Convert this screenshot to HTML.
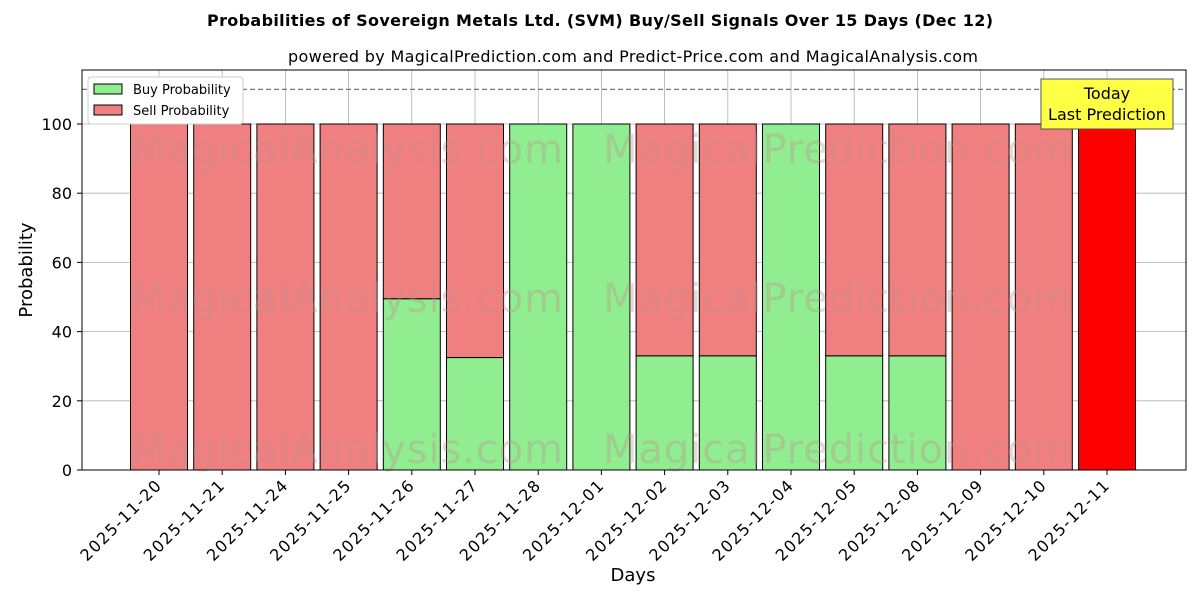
<!DOCTYPE html>
<html><head><meta charset="utf-8"><style>
body{margin:0;background:#fff;font-family:"DejaVu Sans","Liberation Sans",sans-serif;}
svg text{font-family:"DejaVu Sans","Liberation Sans",sans-serif;}
</style></head><body>
<svg id="chart" width="1200" height="600" xmlns="http://www.w3.org/2000/svg">
<text x="600" y="26" text-anchor="middle" font-size="16" font-weight="bold" textLength="786">Probabilities of Sovereign Metals Ltd. (SVM) Buy/Sell Signals Over 15 Days (Dec 12)</text>
<text x="633" y="62" text-anchor="middle" font-size="16" textLength="690">powered by MagicalPrediction.com and Predict-Price.com and MagicalAnalysis.com</text>
<g id="grid"></g>
<g id="bars"></g>
<g id="wm" fill="#c09090" opacity="0.35" font-size="40">
<text x="347" y="163" text-anchor="middle" textLength="432">MagicalAnalysis.com</text>
<text x="837" y="163" text-anchor="middle" textLength="468">MagicalPrediction.com</text>
<text x="347" y="312" text-anchor="middle" textLength="432">MagicalAnalysis.com</text>
<text x="837" y="312" text-anchor="middle" textLength="468">MagicalPrediction.com</text>
<text x="347" y="463" text-anchor="middle" textLength="432">MagicalAnalysis.com</text>
<text x="837" y="463" text-anchor="middle" textLength="468">MagicalPrediction.com</text>
</g>
<line x1="82" x2="1186" y1="89.4" y2="89.4" stroke="#777" stroke-dasharray="5,3" stroke-width="1.2"/>
<rect x="82" y="70" width="1104" height="400" fill="none" stroke="#000" stroke-width="1"/>
<g id="ticks"></g>
<text x="32" y="270" transform="rotate(-90 32 270)" text-anchor="middle" font-size="18">Probability</text>
<text x="633" y="581" text-anchor="middle" font-size="18">Days</text>
<g>
<rect x="88" y="77" width="155" height="47" fill="#fff" stroke="#ccc" rx="3"/>
<rect x="94" y="84" width="28" height="10" fill="#90ee90" stroke="#000"/>
<text x="133" y="94" font-size="13">Buy Probability</text>
<rect x="94" y="105" width="28" height="10" fill="#f08080" stroke="#000"/>
<text x="133" y="115" font-size="13">Sell Probability</text>
</g>
<g>
<rect x="1041" y="79" width="132" height="50" fill="#ffff44" stroke="#555"/>
<text x="1107" y="99" text-anchor="middle" font-size="16">Today</text>
<text x="1107" y="120" text-anchor="middle" font-size="16">Last Prediction</text>
</g>
</svg>
<script>
const dates=["2025-11-20","2025-11-21","2025-11-24","2025-11-25","2025-11-26","2025-11-27","2025-11-28","2025-12-01","2025-12-02","2025-12-03","2025-12-04","2025-12-05","2025-12-08","2025-12-09","2025-12-10","2025-12-11"];
const buyValues=[0,0,0,0,49.5,32.5,100,100,33,33,100,33,33,0,0,0];
const sellValues=[100,100,100,100,50.5,67.5,0,0,67,67,0,67,67,100,100,100];
const yTicks=[0,20,40,60,80,100];
const NS="http://www.w3.org/2000/svg";
const y=v=>470-v*3.46;
const x=i=>159+i*63.2;
const bw=57;
function mk(tag,attrs,parent){const e=document.createElementNS(NS,tag);for(const k in attrs)e.setAttribute(k,attrs[k]);parent.appendChild(e);return e;}
const grid=document.getElementById('grid'),bars=document.getElementById('bars'),ticks=document.getElementById('ticks');
yTicks.forEach(t=>{
 const l=mk('line',{x1:82,x2:1186,y1:y(t),y2:y(t),stroke:'#b0b0b0','stroke-width':0.8},grid);
 
 
 mk('line',{x1:77,x2:82,y1:y(t),y2:y(t),stroke:'#000'},ticks);
 const tx=mk('text',{x:72,y:y(t)+6,'text-anchor':'end','font-size':16},ticks);
 tx.textContent=t;
 
 
});
dates.forEach((d,i)=>{
 const cx=x(i);
 const g=mk('line',{x1:cx,x2:cx,y1:70,y2:470,stroke:'#b0b0b0','stroke-width':0.8},grid);
 
 
 const last=i===dates.length-1;
 if(buyValues[i]>0){
  const r=mk('rect',{x:cx-bw/2,y:y(buyValues[i]),width:bw,height:buyValues[i]*3.46,fill:'#90ee90',stroke:'#000','stroke-width':1},bars);
  
  
 }
 if(sellValues[i]>0){
  const r=mk('rect',{x:cx-bw/2,y:y(buyValues[i]+sellValues[i]),width:bw,height:sellValues[i]*3.46,fill:last?'#ff0000':'#f08080',stroke:'#000','stroke-width':1},bars);
  
  
 }
 mk('line',{x1:cx,x2:cx,y1:470,y2:475,stroke:'#000'},ticks);
 const t=mk('text',{x:cx+3,y:487,'text-anchor':'end','font-size':16,textLength:106,transform:`rotate(-45 ${cx+3} 487)`},ticks);
 t.textContent=d;
 
 
});
</script>
</body></html>
